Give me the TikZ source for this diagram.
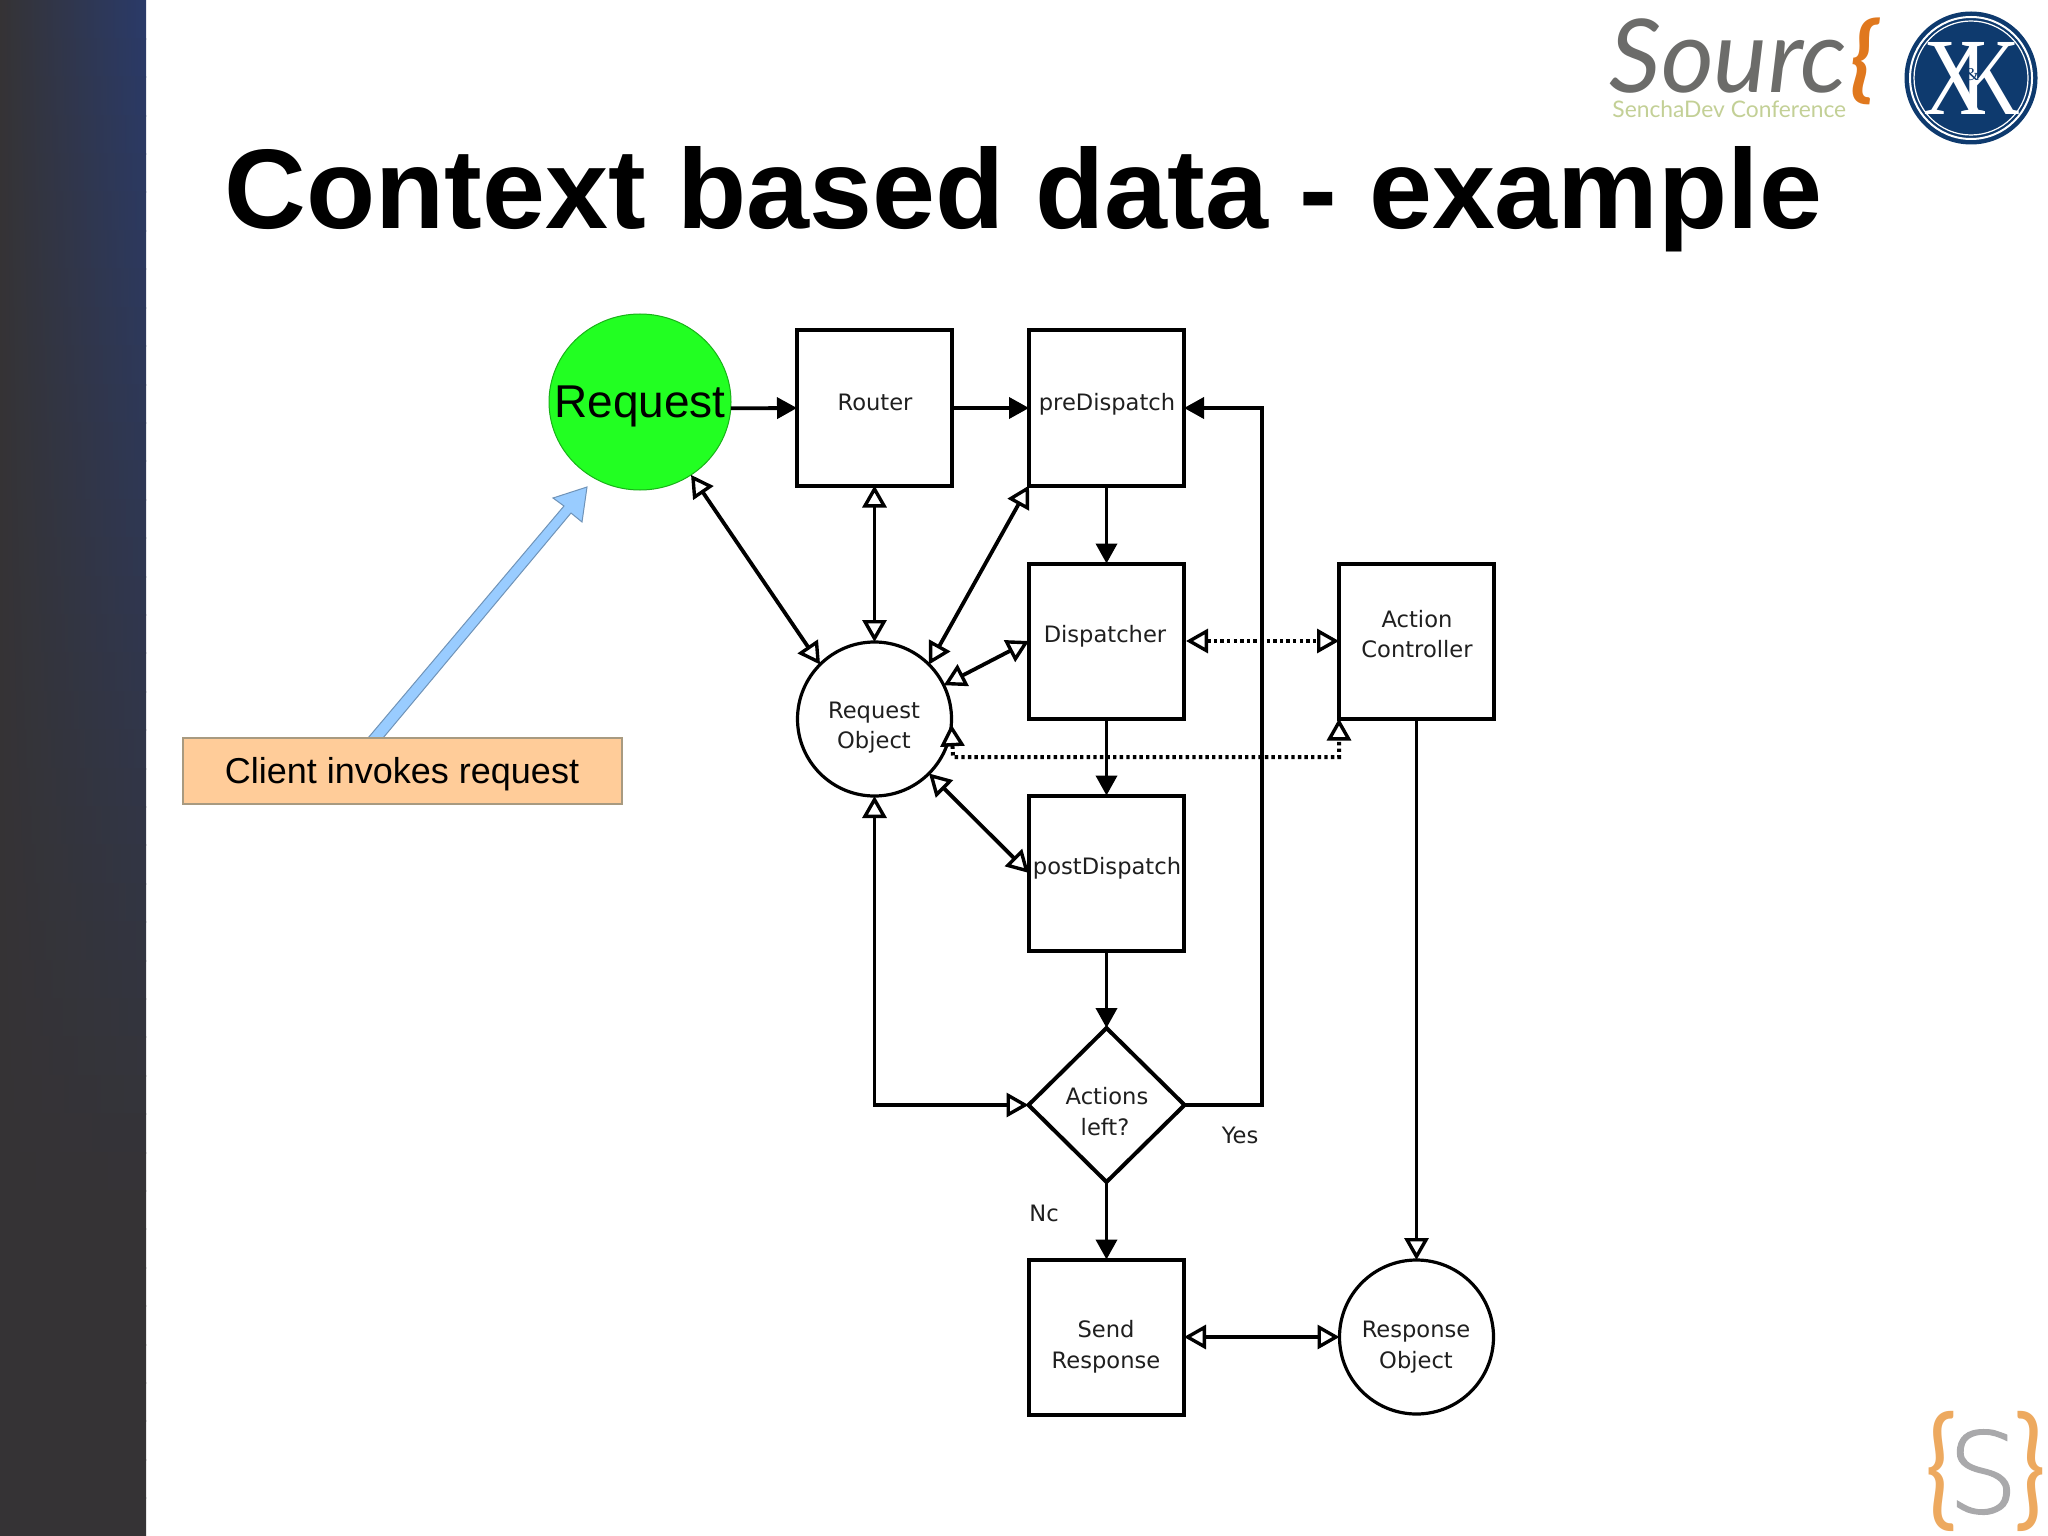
\documentclass[tikz,border=0pt]{standalone}
\usepackage{fontspec}
\setmainfont{Liberation Sans}
\newfontfamily\djv{DejaVu Sans}
\newfontfamily\thinf[FakeBold=1.2]{DejaVu Sans ExtraLight}
\newfontfamily\latof{Lato}
\newfontfamily\serf{Liberation Serif}
\usetikzlibrary{arrows.meta,shapes.geometric}
\definecolor{sidegray}{HTML}{353335}
\definecolor{sidenavy}{HTML}{2A3A68}
\definecolor{reqgreen}{HTML}{22FF22}
\definecolor{notefill}{HTML}{FFCC99}
\definecolor{noteline}{HTML}{A89A80}
\definecolor{blockblue}{HTML}{99CCFF}
\definecolor{blockline}{HTML}{6F93B8}
\definecolor{logogray}{HTML}{6C6C6A}
\definecolor{logoorange}{HTML}{E0781E}
\definecolor{logogreen}{HTML}{C3D096}
\definecolor{seal}{HTML}{0E3A6E}
\definecolor{softorange}{HTML}{EDA95F}
\definecolor{softgray}{HTML}{A9A9AB}
\tikzset{
  x=0.5pt,y=-0.5pt,
  flowbox/.style={draw=black,line width=2pt,fill=white,rectangle,inner sep=0pt,outer sep=0pt,minimum width=77.5pt,minimum height=77.5pt},
  flowround/.style={draw=black,line width=1.6pt,fill=white,ellipse,inner sep=0pt,outer sep=0pt,minimum width=77pt,minimum height=77pt},
  flowdiamond/.style={draw=black,line width=2pt,fill=white,diamond,inner sep=0pt,outer sep=0pt,minimum width=78pt,minimum height=77pt},
  lbl/.style={anchor=base,inner sep=0pt,text=black!88,font=\djv\fontsize{11.3}{13}\selectfont},
  link/.style={draw=black,line width=1.9pt},
  solidtip/.style={-{Triangle[length=10pt,width=10.5pt]}},
  opentip/.style={{Triangle[open,fill=white,length=11pt,width=12pt,line width=1.7pt]}-{Triangle[open,fill=white,length=11pt,width=12pt,line width=1.7pt]}},
  opentipend/.style={-{Triangle[open,fill=white,length=11pt,width=12pt,line width=1.7pt]}},
  dotlink/.style={link,line width=2pt,dash pattern=on 1.7pt off 1.6pt},
}
\begin{document}
\begin{tikzpicture}
\useasboundingbox (0,0) rectangle (2048,1535);
\fill[white] (0,0) rectangle (2048,1535);
% sidebar
\foreach \i in {0,...,39}{
  \pgfmathsetmacro{\mixv}{max(0,100-\i*3.2)}
  \pgfmathsetmacro{\ya}{\i*38.4}
  \pgfmathsetmacro{\yb}{(\i+1)*38.4+1}
  \shade[left color=sidegray,right color=sidenavy!\mixv!sidegray,shading angle=90] (0,\ya) rectangle (146,\yb);
}
% title
\node[anchor=base west,inner sep=0pt,font=\bfseries\fontsize{56.6}{60}\selectfont] (title) at (224,229) {Context based data - example};
% logos
\node[anchor=base west,inner sep=0pt,text=logogray,font=\latof\itshape\fontsize{51}{53}\selectfont] (sourc) at (1609,93) {Sourc};
\node[anchor=base west,inner sep=0pt,text=logoorange,font=\latof\bfseries\itshape\fontsize{47}{49}\selectfont] (brace) at (1850,91) {\{};
\node[anchor=base west,inner sep=0pt,text=logogreen,font=\latof\fontsize{11.4}{14}\selectfont] (sencha) at (1612,118) {SenchaDev Conference};
\node[circle,fill=seal,minimum size=66.5pt,inner sep=0pt] (seal) at (1971,78) {};
\draw[white,line width=1pt] (seal) circle[radius=61];
\draw[white,line width=0.6pt] (seal) circle[radius=57];
\node[text=white,font=\serf\fontsize{55}{57}\selectfont,inner sep=0pt] (sealx) at (1955,78) {\scalebox{0.8}[1]{X}};
\node[text=white,font=\serf\fontsize{55}{57}\selectfont,inner sep=0pt] (sealk) at (1990,78) {\scalebox{0.75}[1]{K}};
\node[text=seal,font=\serf\fontsize{9}{10}\selectfont,inner sep=0pt] (sealamp) at (1972,75) {\&};
% corner logo
\node[text=softorange,inner sep=0pt,font=\latof\fontsize{66}{68}\selectfont] (lb) at (1941,1471) {\scalebox{0.8}[1]{\{}};
\node[text=softgray,inner sep=0pt,font=\thinf\fontsize{56}{58}\selectfont] (ls) at (1983,1472) {S};
\node[text=softorange,inner sep=0pt,font=\latof\fontsize{66}{68}\selectfont] (rb) at (2030,1471) {\scalebox{0.8}[1]{\}}};
% note
\fill[blockblue,draw=blockline,line width=0.5pt,line join=miter] (368,738) -- (564,506) -- (553,498) -- (587,487) -- (582,522) -- (571,513) -- (383,738) -- cycle;
\node[draw=noteline,fill=notefill,line width=0.6pt,inner sep=0pt,minimum width=219.5pt,minimum height=33pt] (note) at (402.5,771) {};
\node[anchor=base,inner sep=0pt,font=\fontsize{18}{20}\selectfont] (notet) at (402,783) {Client invokes request};
% shapes
\node[draw=reqgreen!70!black,line width=0.5pt,fill=reqgreen,ellipse,inner sep=0pt,outer sep=0pt,minimum width=91pt,minimum height=88pt] (req) at (640,402) {};
\node[flowbox] (router) at (874.5,408) {};
\node[flowbox] (pre) at (1106.5,408) {};
\node[flowbox] (disp) at (1106.5,641) {};
\node[flowbox] (post) at (1106.5,873) {};
\node[flowbox] (ac) at (1416.5,641) {};
\node[flowdiamond] (left) at (1106.5,1105) {};
\node[flowbox] (send) at (1106.5,1337) {};
\node[flowround] (ro) at (874.5,719) {};
\node[flowround] (resp) at (1416.5,1337) {};
% labels
\node[anchor=base,inner sep=0pt,font=\fontsize{23}{25}\selectfont] (reqt) at (640,417) {Request};
\node[lbl] (routert) at (875,410) {Router};
\node[lbl] (pret) at (1107,410) {preDispatch};
\node[lbl] (dispt) at (1105,642) {Dispatcher};
\node[lbl] (postt) at (1107,874) {postDispatch};
\node[lbl] (rot1) at (874,718) {Request};
\node[lbl] (rot2) at (874,748) {Object};
\node[lbl] (act1) at (1417,627) {Action};
\node[lbl] (act2) at (1417,657) {Controller};
\node[lbl] (leftt1) at (1107,1104) {Actions};
\node[lbl] (leftt2) at (1105,1135) {left?};
\node[lbl] (sendt1) at (1106,1337) {Send};
\node[lbl] (sendt2) at (1106,1368) {Response};
\node[lbl] (respt1) at (1416,1337) {Response};
\node[lbl] (respt2) at (1416,1368) {Object};
\node[lbl] (yes) at (1240,1143) {Yes};
\node[lbl] (no) at (1044,1221) {Nc};
% coordinates
\coordinate (yesa) at (1262,1105);
\coordinate (yesb) at (1262,408);
\coordinate (dotc) at (953,757);
\coordinate (dotd) at (1339,757);
% connectors
\draw[link,solidtip] (req.-4) -- (router.west);
\draw[link,solidtip] (router.east) -- (pre.west);
\draw[link,solidtip] (pre.south) -- (disp.north);
\draw[link,solidtip] (disp.south) -- (post.north);
\draw[link,solidtip] (post.south) -- (left.north);
\draw[link,solidtip] (left.south) -- (send.north);
\draw[link,solidtip] (left.east) -- (yesa) -- (yesb) -- (pre.east);
\draw[link,opentip] (ro.south) |- (left.west);
\draw[link,opentip] (req.-55) -- (ro.135);
\draw[link,opentip] (router.south) -- (ro.north);
\draw[link,opentip] (pre.south west) -- (ro.45);
\draw[link,opentip] (disp.west) -- (ro.26);
\draw[link,opentip] (post.west) -- (ro.-45);
\draw[link,opentip] (send.east) -- (resp.west);
\draw[link,opentipend] (ac.south) -- (resp.north);
\draw[dotlink,opentip,shorten <=1pt] (disp.east) -- (ac.west);
\draw[dotlink,opentip] (ro.-4) -- (dotc) -- (dotd) -- (ac.south west);
\end{tikzpicture}
\end{document}
